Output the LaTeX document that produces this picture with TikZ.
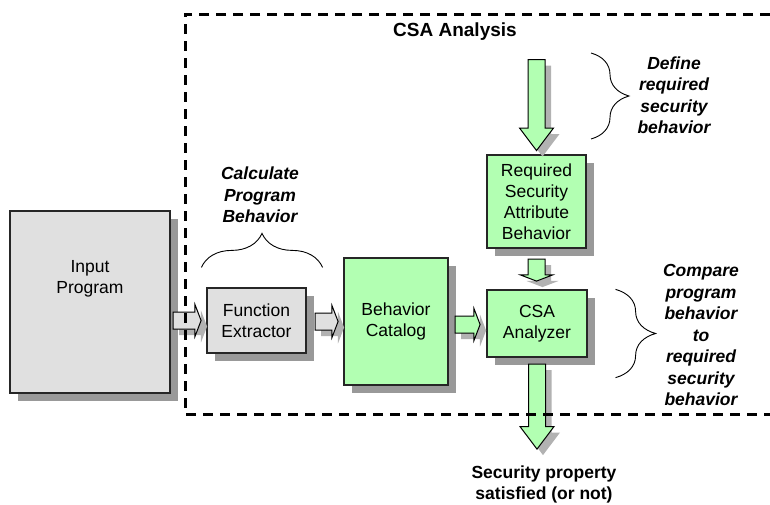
\documentclass[tikz,border=0pt]{standalone}
\usepackage{fontspec}
\setmainfont{Liberation Sans}
\usetikzlibrary{shapes.arrows,shadows,decorations.pathreplacing,calc}

\definecolor{boxgreen}{RGB}{178,255,178}
\definecolor{boxgray}{RGB}{224,224,224}
\definecolor{shadowgray}{RGB}{153,153,153}
\definecolor{arrowshade}{RGB}{178,178,178}

\newcommand{\boxfont}{\fontsize{17.5}{21}\selectfont}
\newcommand{\notefont}{\fontsize{17.5}{21.5}\selectfont\bfseries\itshape}

\tikzset{
  box/.style={draw=black!85, line width=1.2pt, inner sep=2pt, align=center,
    font=\boxfont,
    drop shadow={shadow xshift=8pt, shadow yshift=-8pt, fill=shadowgray, opacity=1}},
  graybox/.style={box, fill=boxgray},
  greenbox/.style={box, fill=boxgreen},
  blockarrow/.style={single arrow, draw=black, line width=1pt, inner xsep=0pt,
    inner ysep=8pt, single arrow head indent=0pt, minimum width=1pt,
    drop shadow={shadow xshift=6pt, shadow yshift=-6pt, fill=arrowshade, opacity=1}},
  blunthead/.style={single arrow head extend=7.5pt, single arrow tip angle=138},
  longhead/.style={single arrow head extend=8.5pt, single arrow tip angle=74},
  downward/.style={shape border rotate=270, inner xsep=8pt, inner ysep=0pt},
  note/.style={align=center, font=\notefont},
  bracket/.style={decorate, decoration={brace, amplitude=#1}, line width=0.9pt},
}

\begin{document}
\begin{tikzpicture}[x=1pt, y=-1pt]
\useasboundingbox (0,0) rectangle (770,504);

% ---- boxes -----------------------------------------------------------------
\node[graybox, minimum width=160pt, minimum height=182pt,
  label={[font=\boxfont, align=center, yshift=23pt]center:Input\\Program}] (inp) at (90,302) {};
\node[graybox, minimum width=99pt, minimum height=65pt] (fe) at (256.5,320.5) {Function\\Extractor};
\node[greenbox, minimum width=104pt, minimum height=127pt] (bc) at (396,321.5) {Behavior\\Catalog};
\node[greenbox, minimum width=99pt, minimum height=93pt] (rsab) at (536.5,201.5)
  {Required\\Security\\Attribute\\Behavior};
\node[greenbox, minimum width=100pt, minimum height=67pt] (csa) at (537,323.5) {CSA\\Analyzer};

% ---- block arrows ----------------------------------------------------------
\node[blockarrow, blunthead, fill=boxgray, minimum height=28pt, anchor=tail] (a1)
  at ([xshift=2pt]inp.east |- fe) {};
\node[blockarrow, blunthead, fill=boxgray, minimum height=23pt, anchor=tail] (a2)
  at ([xshift=8pt,yshift=-1pt]fe.east) {};
\node[blockarrow, blunthead, fill=boxgreen, minimum height=25pt, anchor=tail] (a3)
  at ([xshift=6pt,yshift=-1pt]bc.east |- csa) {};
\node[blockarrow, longhead, downward, fill=boxgreen, minimum height=91pt, anchor=tip] (a4)
  at ([yshift=3pt]rsab.north) {};
\node[blockarrow, blunthead, downward, fill=boxgreen, minimum height=22pt, anchor=tail] (a5)
  at ([yshift=-10pt]rsab.south) {};
\node[blockarrow, longhead, downward, fill=boxgreen, minimum height=85pt, anchor=tail] (a6)
  at ([yshift=-6pt]csa.south) {};

% ---- braces and notes ------------------------------------------------------
\draw[bracket=34pt] ([xshift=-5pt,yshift=20pt]fe.north west) -- ([xshift=16pt,yshift=20pt]fe.north east);
\node[note] (calcnote) at (260,195) {Calculate\\Program\\Behavior};

\draw[bracket=38pt] (591,53) -- (591,139);
\node[note] (defnote) at (674,95) {Define\\required\\security\\behavior};

\draw[bracket=40pt] ([xshift=28pt]csa.north east) -- ([xshift=28pt,yshift=-20pt]csa.south east);
\node[note] (cmpnote) at (701,335) {Compare\\program\\behavior\\to\\required\\security\\behavior};

\node[align=center, font=\boxfont\bfseries] (result) at (544,484) {Security property\\satisfied (or not)};

% ---- analysis frame --------------------------------------------------------
\draw[line width=3pt, dash pattern=on 10pt off 7pt] (770,14) -- (185,14) -- (185,414) -- (770,414);
\node[font=\fontsize{19}{22}\selectfont\bfseries] (title) at (455,32) {CSA Analysis};

\end{tikzpicture}
\end{document}
